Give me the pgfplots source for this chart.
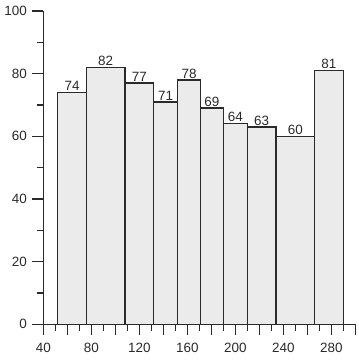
\documentclass[border=0pt]{standalone}
\usepackage{pgfplots}
\pgfplotsset{compat=1.18}
\usepackage{fontspec}
\setmainfont{Liberation Sans}
\definecolor{axc}{HTML}{2A2A2A}
\definecolor{barfill}{HTML}{EBEBEB}
\begin{document}
\begin{tikzpicture}
\begin{axis}[
  scale only axis,
  width=312bp, height=313.3bp,
  xmin=40, xmax=300, ymin=0, ymax=100,
  axis lines=left,
  axis line style={-, line width=1.5bp, color=axc},
  tick align=outside,
  xtick={40,60,...,300},
  xticklabels={40,,80,,120,,160,,200,,240,,280,},
  minor x tick num=1,
  ytick={0,20,...,100},
  minor y tick num=1,
  major tick length=11bp,
  minor tick length=6.5bp,
  tick style={line width=1.3bp, color=axc},
  every tick label/.append style={font=\fontsize{13.5}{15}\selectfont, text=axc},
  xticklabel style={yshift=-4bp},
  yticklabel style={xshift=-2bp},
  /pgf/number format/assume math mode=true,
  clip=false,
]
\addplot[ybar interval, fill=barfill, draw=axc, line width=1.3bp]
  coordinates {(52,74) (76,82) (108,77) (132,71) (152,78) (171,69) (190,64) (210,63) (234,60) (266,81) (290,81)};
\addplot[draw=none, nodes near coords, point meta=explicit symbolic,
  every node near coord/.style={anchor=south, inner sep=1.5bp, font=\fontsize{13.5}{15}\selectfont, text=axc}]
  coordinates {(64,74)[74] (92,82)[82] (120,77)[77] (142,71)[71] (161.5,78)[78] (180.5,69)[69] (200,64)[64] (222,63)[63] (250,60)[60] (278,81)[81]};
\end{axis}
\path (current axis.south west) ++(-43.3bp,-35.7bp) rectangle ++(358bp,360bp);
\end{tikzpicture}
\end{document}
